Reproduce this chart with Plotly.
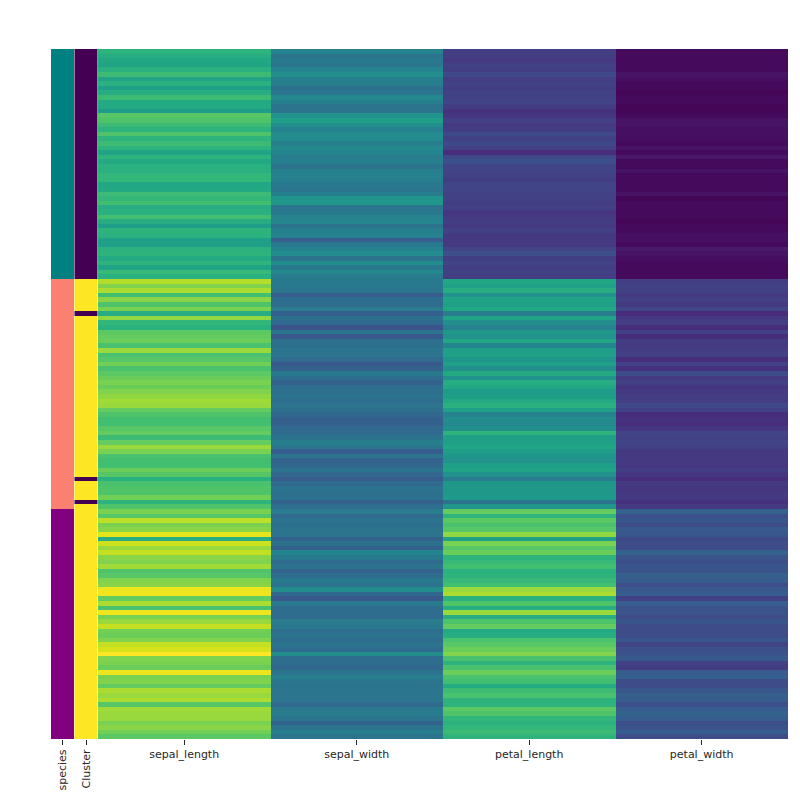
import plotly.graph_objects as go

sepal_length = [5.1,4.9,4.7,4.6,5.0,5.4,4.6,5.0,4.4,4.9,5.4,4.8,4.8,4.3,5.8,5.7,5.4,5.1,5.7,5.1,5.4,5.1,4.6,5.1,4.8,5.0,5.0,5.2,5.2,4.7,4.8,5.4,5.2,5.5,4.9,5.0,5.5,4.9,4.4,5.1,5.0,4.5,4.4,5.0,5.1,4.8,5.1,4.6,5.3,5.0,
7.0,6.4,6.9,5.5,6.5,5.7,6.3,4.9,6.6,5.2,5.0,5.9,6.0,6.1,5.6,6.7,5.6,5.8,6.2,5.6,5.9,6.1,6.3,6.1,6.4,6.6,6.8,6.7,6.0,5.7,5.5,5.5,5.8,6.0,5.4,6.0,6.7,6.3,5.6,5.5,5.5,6.1,5.8,5.0,5.6,5.7,5.7,6.2,5.1,5.7,
6.3,5.8,7.1,6.3,6.5,7.6,4.9,7.3,6.7,7.2,6.5,6.4,6.8,5.7,5.8,6.4,6.5,7.7,7.7,6.0,6.9,5.6,7.7,6.3,6.7,7.2,6.2,6.1,6.4,7.2,7.4,7.9,6.4,6.3,6.1,7.7,6.3,6.4,6.0,6.9,6.7,6.9,5.8,6.8,6.7,6.7,6.3,6.5,6.2,5.9]
sepal_width = [3.5,3.0,3.2,3.1,3.6,3.9,3.4,3.4,2.9,3.1,3.7,3.4,3.0,3.0,4.0,4.4,3.9,3.5,3.8,3.8,3.4,3.7,3.6,3.3,3.4,3.0,3.4,3.5,3.4,3.2,3.1,3.4,4.1,4.2,3.1,3.2,3.5,3.6,3.0,3.4,3.5,2.3,3.2,3.5,3.8,3.0,3.8,3.2,3.7,3.3,
3.2,3.2,3.1,2.3,2.8,2.8,3.3,2.4,2.9,2.7,2.0,3.0,2.2,2.9,2.9,3.1,3.0,2.7,2.2,2.5,3.2,2.8,2.5,2.8,2.9,3.0,2.8,3.0,2.9,2.6,2.4,2.4,2.7,2.7,3.0,3.4,3.1,2.3,3.0,2.5,2.6,3.0,2.6,2.3,2.7,3.0,2.9,2.9,2.5,2.8,
3.3,2.7,3.0,2.9,3.0,3.0,2.5,2.9,2.5,3.6,3.2,2.7,3.0,2.5,2.8,3.2,3.0,3.8,2.6,2.2,3.2,2.8,2.8,2.7,3.3,3.2,2.8,3.0,2.8,3.0,2.8,3.8,2.8,2.8,2.6,3.0,3.4,3.1,3.0,3.1,3.1,3.1,2.7,3.2,3.3,3.0,2.5,3.0,3.4,3.0]
petal_length = [1.4,1.4,1.3,1.5,1.4,1.7,1.4,1.5,1.4,1.5,1.5,1.6,1.4,1.1,1.2,1.5,1.3,1.4,1.7,1.5,1.7,1.5,1.0,1.7,1.9,1.6,1.6,1.5,1.4,1.6,1.6,1.5,1.5,1.4,1.5,1.2,1.3,1.4,1.3,1.5,1.3,1.3,1.3,1.6,1.9,1.4,1.6,1.4,1.5,1.4,
4.7,4.5,4.9,4.0,4.6,4.5,4.7,3.3,4.6,3.9,3.5,4.2,4.0,4.7,3.6,4.4,4.5,4.1,4.5,3.9,4.8,4.0,4.9,4.7,4.3,4.4,4.8,5.0,4.5,3.5,3.8,3.7,3.9,5.1,4.5,4.5,4.7,4.4,4.1,4.0,4.4,4.6,4.0,3.3,4.2,4.2,4.2,4.3,3.0,4.1,
6.0,5.1,5.9,5.6,5.8,6.6,4.5,6.3,5.8,6.1,5.1,5.3,5.5,5.0,5.1,5.3,5.5,6.7,6.9,5.0,5.7,4.9,6.7,4.9,5.7,6.0,4.8,4.9,5.6,5.8,6.1,6.4,5.6,5.1,5.6,6.1,5.6,5.5,4.8,5.4,5.6,5.1,5.1,5.9,5.7,5.2,5.0,5.2,5.4,5.1]
petal_width = [0.2,0.2,0.2,0.2,0.2,0.4,0.3,0.2,0.2,0.1,0.2,0.2,0.1,0.1,0.2,0.4,0.4,0.3,0.3,0.3,0.2,0.4,0.2,0.5,0.2,0.2,0.4,0.2,0.2,0.2,0.2,0.4,0.1,0.2,0.2,0.2,0.2,0.1,0.2,0.2,0.3,0.3,0.2,0.6,0.4,0.3,0.2,0.2,0.2,0.2,
1.4,1.5,1.5,1.3,1.5,1.3,1.6,1.0,1.3,1.4,1.0,1.5,1.0,1.4,1.3,1.4,1.5,1.0,1.5,1.1,1.8,1.3,1.5,1.2,1.3,1.4,1.4,1.7,1.5,1.0,1.1,1.0,1.2,1.6,1.5,1.6,1.5,1.3,1.3,1.3,1.2,1.4,1.2,1.0,1.3,1.2,1.3,1.3,1.1,1.3,
2.5,1.9,2.1,1.8,2.2,2.1,1.7,1.8,1.8,2.5,2.0,1.9,2.1,2.0,2.4,2.3,1.8,2.2,2.3,1.5,2.3,2.0,2.0,1.8,2.1,1.8,1.8,1.8,2.1,1.6,1.9,2.0,2.2,1.5,1.4,2.3,2.4,1.8,1.8,2.1,2.4,2.3,1.9,2.3,2.5,2.3,1.9,2.0,2.3,1.8]
species = [0]*50 + [1]*50 + [2]*50
cluster = [0]*50 + [1]*7 + [0] + [1]*35 + [0] + [1]*4 + [0] + [1] + [1]*50

measure_names = ["sepal_length", "sepal_width", "petal_length", "petal_width"]
meta_names = ["species", "Cluster"]
species_colors = ["#008080", "#FA8072", "#800080"]
viridis_stops = ["#440154","#471365","#482475","#463480","#414487","#3b528b","#355f8d","#2f6c8e","#2a788e","#25848e",
                 "#21918c","#1e9c89","#22a884","#2fb47c","#44bf70","#5ec962","#7ad151","#9bd93c","#bddf26","#dfe318","#fde725"]
viridis = [[i / 20, c] for i, c in enumerate(viridis_stops)]

W = 800.0
ys = list(range(150))
tick_font = dict(family="DejaVu Sans", size=11, color="#262626")

fig = go.Figure()
fig.add_trace(go.Heatmap(
    z=[[s] for s in species], x=[0, 1], y=ys, xaxis="x", yaxis="y",
    zmin=0, zmax=2, showscale=False,
    colorscale=[[0, species_colors[0]], [0.5, species_colors[1]], [1, species_colors[2]]]))
fig.add_trace(go.Heatmap(
    z=[[c] for c in cluster], x=[1, 2], y=ys, xaxis="x", yaxis="y",
    zmin=0, zmax=1, showscale=False, colorscale=viridis))
fig.add_trace(go.Heatmap(
    z=[list(r) for r in zip(sepal_length, sepal_width, petal_length, petal_width)],
    x=measure_names, y=ys, xaxis="x2", yaxis="y",
    zmin=0, zmax=7.9, showscale=False, colorscale=viridis))

fig.update_layout(
    width=800, height=800, autosize=False,
    margin=dict(l=0, r=0, t=0, b=0),
    paper_bgcolor="white", plot_bgcolor="white",
    showlegend=False,
    xaxis=dict(domain=[51/W, 97.98/W], range=[0, 2], tickmode="array", tickvals=[0.5, 1.5],
               ticktext=meta_names, tickangle=-90, ticks="outside", ticklen=5, tickwidth=1,
               tickcolor="#262626", tickfont=tick_font, showgrid=False, zeroline=False, showline=False),
    xaxis2=dict(domain=[98.0/W, 787.9/W], range=[-0.5, 3.5], tickmode="array", tickvals=measure_names,
                ticktext=measure_names, tickangle=0, ticks="outside", ticklen=5, tickwidth=1,
                tickcolor="#262626", tickfont=tick_font, showgrid=False, zeroline=False, showline=False,
                anchor="y"),
    yaxis=dict(domain=[1-739/W, 1-49/W], range=[149.5, -0.5], showticklabels=False, ticks="",
               showgrid=False, zeroline=False, showline=False),
)
fig.write_html("out.html", config=dict(displayModeBar=False),
               post_script="document.body.style.margin='0';")
